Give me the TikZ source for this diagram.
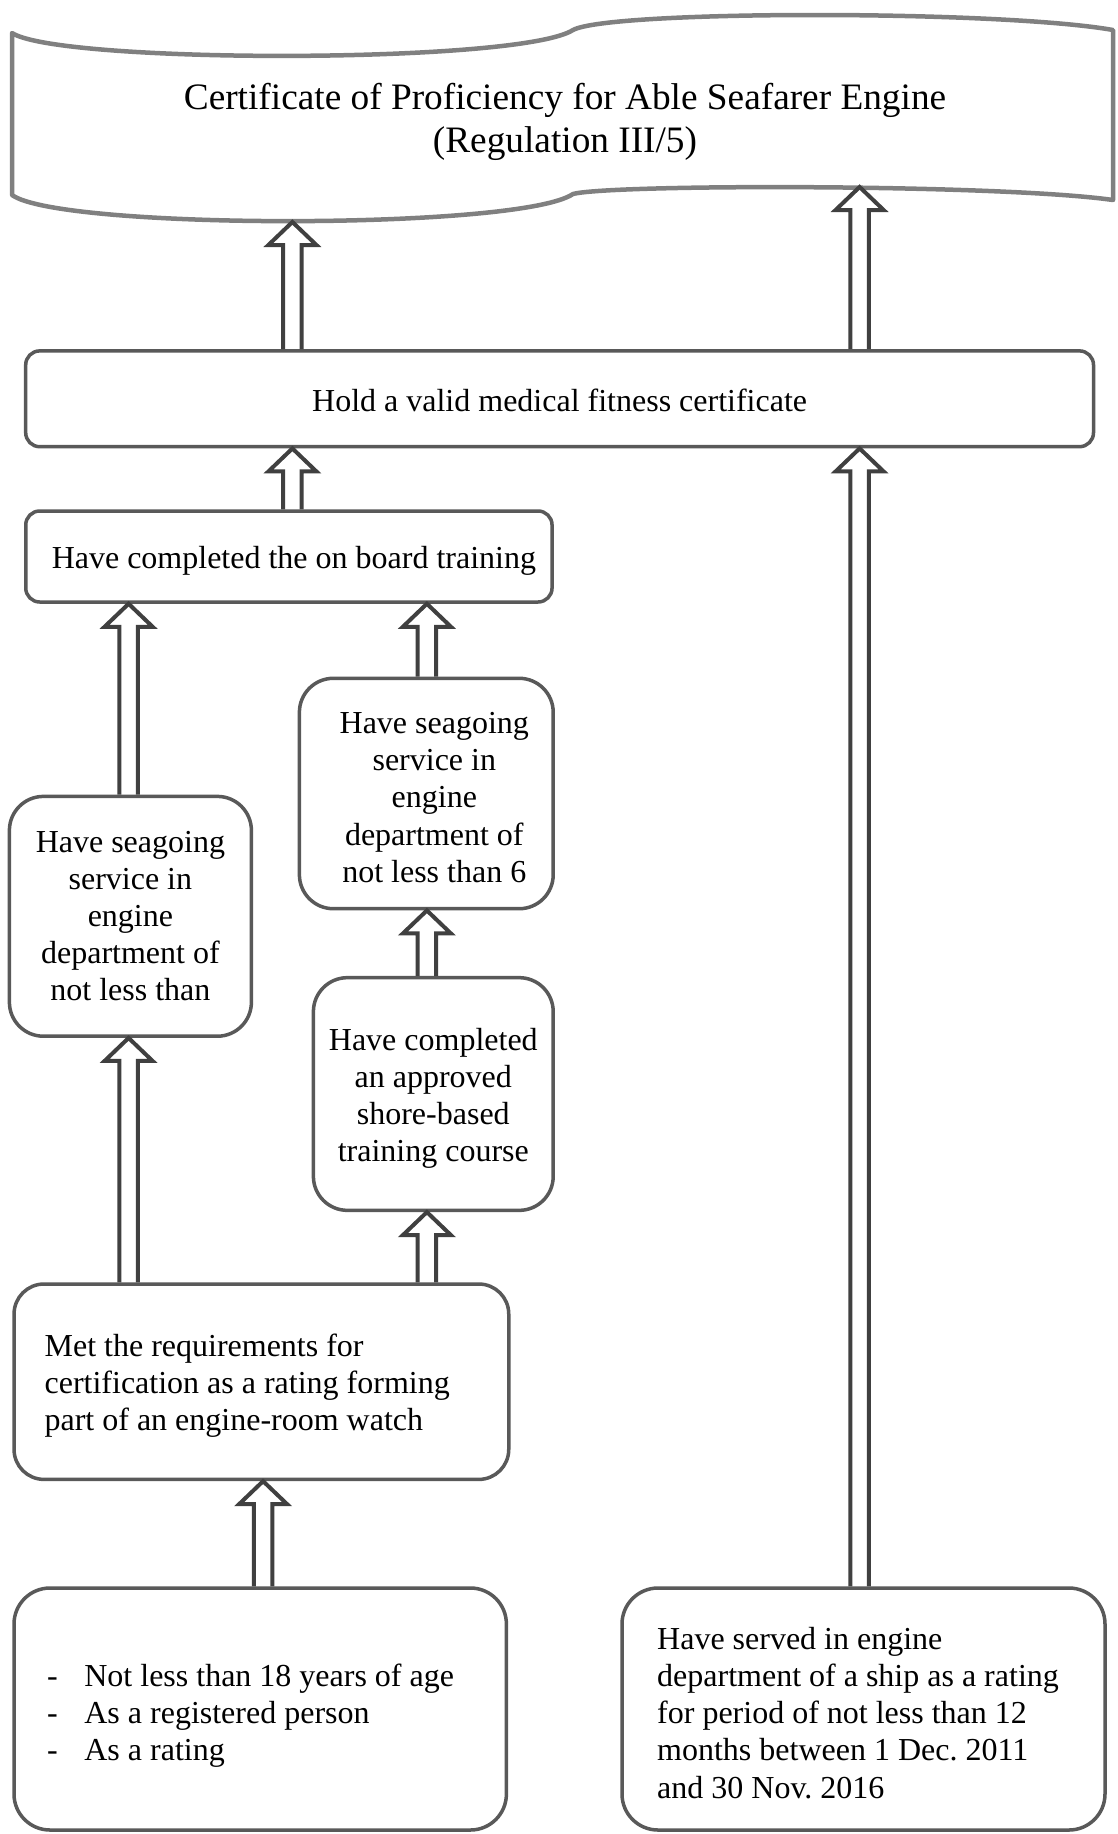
\documentclass[tikz,border=0pt]{standalone}
\usepackage{fontspec}
\setmainfont{Liberation Serif}
\usetikzlibrary{calc}
\definecolor{boxgray}{HTML}{595959}
\definecolor{arrgray}{HTML}{404040}
\definecolor{bangray}{HTML}{808080}
\newcommand\bodyfont{\fontsize{32}{37.1}\selectfont\frenchspacing}
\newcommand\titlefont{\fontsize{37.3}{43.2}\selectfont}
\newcommand\blkarrow[2]{\draw[blkarr] let \p1=(#1), \p2=(#2) in
  (\x1-9.2pt,\y1) -- (\x1-9.2pt,\y2-23pt) -- (\x1-24pt,\y2-23pt) -- (\x1,\y2)
  -- (\x1+24pt,\y2-23pt) -- (\x1+9.2pt,\y2-23pt) -- (\x1+9.2pt,\y1);}
\begin{document}
\begin{tikzpicture}[x=1pt,y=-1pt,
  rbox/.style={draw=boxgray, line width=3.5pt, fill=white, rounded corners=#1,
    inner sep=0pt},
  rbox/.default=14pt,
  ctxt/.style={font=\bodyfont, align=center, inner sep=0pt, yshift=-4pt},
  ltxt/.style={font=\bodyfont, align=left, inner sep=0pt, yshift=-4pt},
  blkarr/.style={draw=arrgray, line width=4pt, line join=miter}]
\useasboundingbox[fill=white] (0,0) rectangle (1118,1834);
% banner
\draw[bangray, line width=4.5pt, line join=round]
  (12,33) .. controls (60,64) and (520,64) .. (573,30)
  .. controls (610,10) and (1000,10) .. (1113,30) -- (1113,200)
  .. controls (1000,184) and (610,184) .. (573,194)
  .. controls (520,230) and (60,230) .. (12,195) -- cycle;
\node[font=\titlefont, align=center] (title) at (565,122)
  {Certificate of Proficiency for Able Seafarer Engine\\(Regulation III/5)};
\coordinate (ban1) at (292.4,222);
\coordinate (ban2) at (859.6,187);
% boxes
\node[rbox=14pt, minimum width=1067.8pt, minimum height=95.8pt,
  label={[ctxt, yshift=2pt]center:Hold a valid medical fitness certificate}] (med) at (559.6,398.8) {};
\node[rbox=14pt, minimum width=526.3pt, minimum height=91pt,
  label={[ctxt, xshift=5pt]center:Have completed the on board training}] (onb) at (288.9,556.5) {};
\node[rbox=34pt, minimum width=242pt, minimum height=239.8pt,
  label={[ctxt, yshift=4pt]center:{Have seagoing\\service in\\engine\\department of\\not less than}}] (seagL) at (130.4,916.3) {};
\node[rbox=34pt, minimum width=253.8pt, minimum height=230.4pt,
  label={[ctxt, xshift=8pt]center:{Have seagoing\\service in\\engine\\department of\\not less than 6}}] (seagM) at (426.3,793.5) {};
\node[rbox=34pt, minimum width=239.8pt, minimum height=232.7pt,
  label={[ctxt]center:{Have completed\\an approved\\shore-based\\training course}}] (shore) at (433.3,1094) {};
\node[rbox=30pt, minimum width=494.7pt, minimum height=195.4pt] (met) at (261.4,1381.7) {};
\node[ltxt, anchor=west] (mettxt) at (44.4,1381.7)
  {Met the requirements for\\certification as a rating forming\\part of an engine-room watch};
\node[rbox=36pt, minimum width=492.4pt, minimum height=242pt] (bl) at (260.2,1709) {};
\node[ltxt, anchor=west, yshift=-3pt] (bltxt) at (46.8,1709)
  {\makebox[37.4pt][l]{-}Not less than 18 years of age\\
   \makebox[37.4pt][l]{-}As a registered person\\
   \makebox[37.4pt][l]{-}As a rating};
\node[rbox=36pt, minimum width=483pt, minimum height=242pt] (br) at (863.5,1709) {};
\node[ltxt, anchor=west] (brtxt) at (657,1709)
  {Have served in engine\\department of a ship as a rating\\for period of not less than 12\\months between 1 Dec. 2011\\and 30 Nov. 2016};
% arrow columns
\coordinate (xA) at (292.4,0);
\coordinate (xB) at (859.6,0);
\coordinate (xC) at (128.6,0);
\coordinate (xD) at (426.9,0);
\coordinate (xE) at (263.1,0);
% arrows
\blkarrow{med.north -| xA}{ban1}
\blkarrow{med.north -| xB}{ban2}
\blkarrow{onb.north -| xA}{med.south}
\blkarrow{seagL.north -| xC}{onb.south}
\blkarrow{seagM.north -| xD}{onb.south}
\blkarrow{shore.north -| xD}{seagM.south}
\blkarrow{met.north -| xD}{shore.south}
\blkarrow{met.north -| xC}{seagL.south}
\blkarrow{bl.north -| xE}{met.south}
\blkarrow{br.north -| xB}{med.south}
\end{tikzpicture}
\end{document}
